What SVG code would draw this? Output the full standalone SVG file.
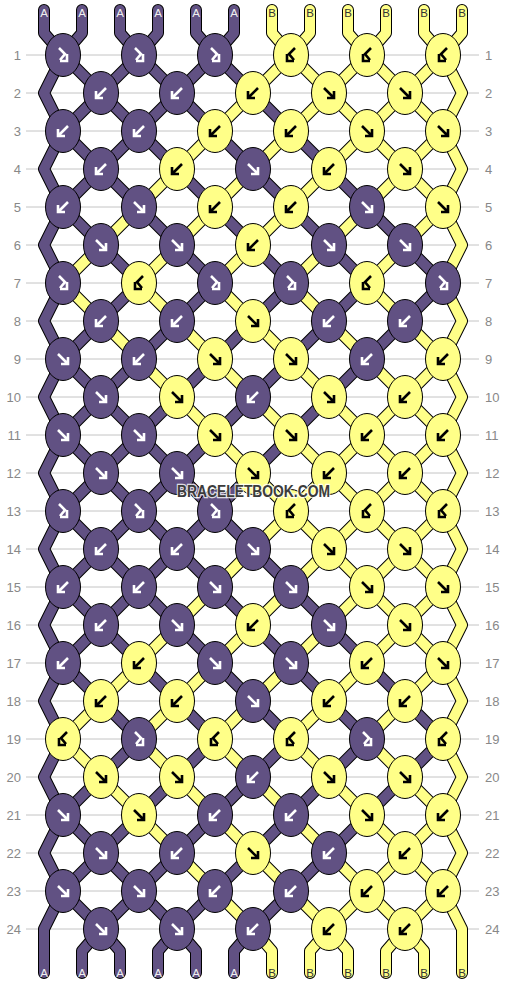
<svg xmlns="http://www.w3.org/2000/svg" xmlns:xlink="http://www.w3.org/1999/xlink" width="506" height="984" viewBox="0 0 506 984">
<style>
.grid{stroke:#c4c4c4;stroke-width:1}
.o{stroke:#000;stroke-width:12;fill:none;stroke-linejoin:round;stroke-linecap:round}
.ta{stroke:#615183;stroke-width:10;fill:none;stroke-linejoin:round;stroke-linecap:round}
.tb{stroke:#ffff88;stroke-width:10;fill:none;stroke-linejoin:round;stroke-linecap:round}
.P{fill:#615183;stroke:#000;stroke-width:1}
.Y{fill:#ffff88;stroke:#000;stroke-width:1}
.w{stroke:#fff;fill:none;stroke-width:2.6;stroke-linejoin:miter}
.k{stroke:#000;fill:none;stroke-width:2.6;stroke-linejoin:miter}
.num{font-family:"Liberation Sans",Arial,sans-serif;font-size:13px;fill:#888}
.lbl{font-family:"Liberation Sans",Arial,sans-serif;font-size:11.5px;text-anchor:middle}
.la{fill:#f0f0f0}
.lb{fill:#333}
.wm{font-family:"Liberation Sans",Arial,sans-serif;font-weight:bold;font-size:16px;fill:#3c3c3c;stroke:#fff;stroke-width:2.5;paint-order:stroke;stroke-opacity:0.8;text-anchor:middle}
</style>
<defs>
<path id="f" d="M-5,-5 L4,4 M-2,5 H5 V-2"/>
<path id="b" d="M5,-5 L-4,4 M2,5 H-5 V-2"/>
<path id="fb" d="M-4,-7 L2,-1 L-3,5 M-3,6 H4 V-1"/>
<path id="bf" d="M4,-7 L-2,-1 L3,5 M3,6 H-4 V-1"/>
<polyline id="t0" points="44,10 44,33 63,55 44,93 63,131 101,169 139,207 177,245 215,283 177,321 139,359 101,397 63,435 44,473 63,511 44,549 63,587 101,625 139,663 177,701 215,739 177,777 139,815 101,853 63,891 44,929 44,951 44,973"/>
<polyline id="t1" points="82,10 82,33 63,55 101,93 139,131 177,169 215,207 253,245 291,283 253,321 215,359 177,397 139,435 101,473 63,511 101,549 139,587 177,625 215,663 253,701 291,739 253,777 215,815 177,853 139,891 101,929 82,951 82,973"/>
<polyline id="t2" points="120,10 120,33 139,55 101,93 63,131 44,169 63,207 101,245 139,283 101,321 63,359 44,397 63,435 101,473 139,511 101,549 63,587 44,625 63,663 101,701 139,739 101,777 63,815 44,853 63,891 101,929 120,951 120,973"/>
<polyline id="t3" points="158,10 158,33 139,55 177,93 215,131 253,169 291,207 329,245 367,283 329,321 291,359 253,397 215,435 177,473 139,511 177,549 215,587 253,625 291,663 329,701 367,739 329,777 291,815 253,853 215,891 177,929 158,951 158,973"/>
<polyline id="t4" points="196,10 196,33 215,55 177,93 139,131 101,169 63,207 44,245 63,283 44,321 63,359 101,397 139,435 177,473 215,511 177,549 139,587 101,625 63,663 44,701 63,739 44,777 63,815 101,853 139,891 177,929 196,951 196,973"/>
<polyline id="t5" points="234,10 234,33 215,55 253,93 291,131 329,169 367,207 405,245 443,283 405,321 367,359 329,397 291,435 253,473 215,511 253,549 291,587 329,625 367,663 405,701 443,739 405,777 367,815 329,853 291,891 253,929 234,951 234,973"/>
<polyline id="t6" points="272,10 272,33 291,55 253,93 215,131 177,169 139,207 101,245 63,283 101,321 139,359 177,397 215,435 253,473 291,511 253,549 215,587 177,625 139,663 101,701 63,739 101,777 139,815 177,853 215,891 253,929 272,951 272,973"/>
<polyline id="t7" points="310,10 310,33 291,55 329,93 367,131 405,169 443,207 462,245 443,283 462,321 443,359 405,397 367,435 329,473 291,511 329,549 367,587 405,625 443,663 462,701 443,739 462,777 443,815 405,853 367,891 329,929 310,951 310,973"/>
<polyline id="t8" points="348,10 348,33 367,55 329,93 291,131 253,169 215,207 177,245 139,283 177,321 215,359 253,397 291,435 329,473 367,511 329,549 291,587 253,625 215,663 177,701 139,739 177,777 215,815 253,853 291,891 329,929 348,951 348,973"/>
<polyline id="t9" points="386,10 386,33 367,55 405,93 443,131 462,169 443,207 405,245 367,283 405,321 443,359 462,397 443,435 405,473 367,511 405,549 443,587 462,625 443,663 405,701 367,739 405,777 443,815 462,853 443,891 405,929 386,951 386,973"/>
<polyline id="t10" points="424,10 424,33 443,55 405,93 367,131 329,169 291,207 253,245 215,283 253,321 291,359 329,397 367,435 405,473 443,511 405,549 367,587 329,625 291,663 253,701 215,739 253,777 291,815 329,853 367,891 405,929 424,951 424,973"/>
<polyline id="t11" points="462,10 462,33 443,55 462,93 443,131 405,169 367,207 329,245 291,283 329,321 367,359 405,397 443,435 462,473 443,511 462,549 443,587 405,625 367,663 329,701 291,739 329,777 367,815 405,853 443,891 462,929 462,951 462,973"/>
</defs>
<rect width="506" height="984" fill="#fff"/>
<g id="grid" class="grid">
<line x1="26" y1="55" x2="479" y2="55"/><line x1="26" y1="93" x2="479" y2="93"/><line x1="26" y1="131" x2="479" y2="131"/><line x1="26" y1="169" x2="479" y2="169"/><line x1="26" y1="207" x2="479" y2="207"/><line x1="26" y1="245" x2="479" y2="245"/><line x1="26" y1="283" x2="479" y2="283"/><line x1="26" y1="321" x2="479" y2="321"/><line x1="26" y1="359" x2="479" y2="359"/><line x1="26" y1="397" x2="479" y2="397"/><line x1="26" y1="435" x2="479" y2="435"/><line x1="26" y1="473" x2="479" y2="473"/><line x1="26" y1="511" x2="479" y2="511"/><line x1="26" y1="549" x2="479" y2="549"/><line x1="26" y1="587" x2="479" y2="587"/><line x1="26" y1="625" x2="479" y2="625"/><line x1="26" y1="663" x2="479" y2="663"/><line x1="26" y1="701" x2="479" y2="701"/><line x1="26" y1="739" x2="479" y2="739"/><line x1="26" y1="777" x2="479" y2="777"/><line x1="26" y1="815" x2="479" y2="815"/><line x1="26" y1="853" x2="479" y2="853"/><line x1="26" y1="891" x2="479" y2="891"/><line x1="26" y1="929" x2="479" y2="929"/>
</g>
<g id="row-numbers" class="num">
<g text-anchor="end">
<text x="21" y="60">1</text><text x="21" y="98">2</text><text x="21" y="136">3</text><text x="21" y="174">4</text><text x="21" y="212">5</text><text x="21" y="250">6</text><text x="21" y="288">7</text><text x="21" y="326">8</text><text x="21" y="364">9</text><text x="21" y="402">10</text><text x="21" y="440">11</text><text x="21" y="478">12</text><text x="21" y="516">13</text><text x="21" y="554">14</text><text x="21" y="592">15</text><text x="21" y="630">16</text><text x="21" y="668">17</text><text x="21" y="706">18</text><text x="21" y="744">19</text><text x="21" y="782">20</text><text x="21" y="820">21</text><text x="21" y="858">22</text><text x="21" y="896">23</text><text x="21" y="934">24</text>
</g>
<g>
<text x="485" y="60">1</text><text x="485" y="98">2</text><text x="485" y="136">3</text><text x="485" y="174">4</text><text x="485" y="212">5</text><text x="485" y="250">6</text><text x="485" y="288">7</text><text x="485" y="326">8</text><text x="485" y="364">9</text><text x="485" y="402">10</text><text x="485" y="440">11</text><text x="485" y="478">12</text><text x="485" y="516">13</text><text x="485" y="554">14</text><text x="485" y="592">15</text><text x="485" y="630">16</text><text x="485" y="668">17</text><text x="485" y="706">18</text><text x="485" y="744">19</text><text x="485" y="782">20</text><text x="485" y="820">21</text><text x="485" y="858">22</text><text x="485" y="896">23</text><text x="485" y="934">24</text>
</g>
</g>
<g id="connectors">
<g class="o">
<use href="#t0"/><use href="#t1"/><use href="#t2"/><use href="#t3"/><use href="#t4"/><use href="#t5"/><use href="#t6"/><use href="#t7"/><use href="#t8"/><use href="#t9"/><use href="#t10"/><use href="#t11"/>
</g>
<g class="ta"><use href="#t0"/><use href="#t1"/><use href="#t2"/><use href="#t3"/><use href="#t4"/><use href="#t5"/></g>
<g class="tb"><use href="#t6"/><use href="#t7"/><use href="#t8"/><use href="#t9"/><use href="#t10"/><use href="#t11"/></g>
</g>
<g id="string-labels" class="lbl">
<text class="la" x="44" y="17">A</text><text class="la" x="82" y="17">A</text><text class="la" x="120" y="17">A</text><text class="la" x="158" y="17">A</text><text class="la" x="196" y="17">A</text><text class="la" x="234" y="17">A</text>
<text class="lb" x="272" y="17">B</text><text class="lb" x="310" y="17">B</text><text class="lb" x="348" y="17">B</text><text class="lb" x="386" y="17">B</text><text class="lb" x="424" y="17">B</text><text class="lb" x="462" y="17">B</text>
<text class="la" x="44" y="977">A</text><text class="la" x="82" y="977">A</text><text class="la" x="120" y="977">A</text><text class="la" x="158" y="977">A</text><text class="la" x="196" y="977">A</text><text class="la" x="234" y="977">A</text>
<text class="lb" x="272" y="977">B</text><text class="lb" x="310" y="977">B</text><text class="lb" x="348" y="977">B</text><text class="lb" x="386" y="977">B</text><text class="lb" x="424" y="977">B</text><text class="lb" x="462" y="977">B</text>
</g>
<g id="knots">
<g id="k1-1" transform="translate(63 55)"><ellipse class="P" rx="17.5" ry="21.5"/><use href="#fb" class="w"/></g>
<g id="k1-2" transform="translate(139 55)"><ellipse class="P" rx="17.5" ry="21.5"/><use href="#fb" class="w"/></g>
<g id="k1-3" transform="translate(215 55)"><ellipse class="P" rx="17.5" ry="21.5"/><use href="#fb" class="w"/></g>
<g id="k1-4" transform="translate(291 55)"><ellipse class="Y" rx="17.5" ry="21.5"/><use href="#bf" class="k"/></g>
<g id="k1-5" transform="translate(367 55)"><ellipse class="Y" rx="17.5" ry="21.5"/><use href="#bf" class="k"/></g>
<g id="k1-6" transform="translate(443 55)"><ellipse class="Y" rx="17.5" ry="21.5"/><use href="#bf" class="k"/></g>
<g id="k2-1" transform="translate(101 93)"><ellipse class="P" rx="17.5" ry="21.5"/><use href="#b" class="w"/></g>
<g id="k2-2" transform="translate(177 93)"><ellipse class="P" rx="17.5" ry="21.5"/><use href="#b" class="w"/></g>
<g id="k2-3" transform="translate(253 93)"><ellipse class="Y" rx="17.5" ry="21.5"/><use href="#b" class="k"/></g>
<g id="k2-4" transform="translate(329 93)"><ellipse class="Y" rx="17.5" ry="21.5"/><use href="#f" class="k"/></g>
<g id="k2-5" transform="translate(405 93)"><ellipse class="Y" rx="17.5" ry="21.5"/><use href="#f" class="k"/></g>
<g id="k3-1" transform="translate(63 131)"><ellipse class="P" rx="17.5" ry="21.5"/><use href="#b" class="w"/></g>
<g id="k3-2" transform="translate(139 131)"><ellipse class="P" rx="17.5" ry="21.5"/><use href="#b" class="w"/></g>
<g id="k3-3" transform="translate(215 131)"><ellipse class="Y" rx="17.5" ry="21.5"/><use href="#b" class="k"/></g>
<g id="k3-4" transform="translate(291 131)"><ellipse class="Y" rx="17.5" ry="21.5"/><use href="#b" class="k"/></g>
<g id="k3-5" transform="translate(367 131)"><ellipse class="Y" rx="17.5" ry="21.5"/><use href="#f" class="k"/></g>
<g id="k3-6" transform="translate(443 131)"><ellipse class="Y" rx="17.5" ry="21.5"/><use href="#f" class="k"/></g>
<g id="k4-1" transform="translate(101 169)"><ellipse class="P" rx="17.5" ry="21.5"/><use href="#b" class="w"/></g>
<g id="k4-2" transform="translate(177 169)"><ellipse class="Y" rx="17.5" ry="21.5"/><use href="#b" class="k"/></g>
<g id="k4-3" transform="translate(253 169)"><ellipse class="P" rx="17.5" ry="21.5"/><use href="#f" class="w"/></g>
<g id="k4-4" transform="translate(329 169)"><ellipse class="Y" rx="17.5" ry="21.5"/><use href="#b" class="k"/></g>
<g id="k4-5" transform="translate(405 169)"><ellipse class="Y" rx="17.5" ry="21.5"/><use href="#f" class="k"/></g>
<g id="k5-1" transform="translate(63 207)"><ellipse class="P" rx="17.5" ry="21.5"/><use href="#b" class="w"/></g>
<g id="k5-2" transform="translate(139 207)"><ellipse class="P" rx="17.5" ry="21.5"/><use href="#f" class="w"/></g>
<g id="k5-3" transform="translate(215 207)"><ellipse class="Y" rx="17.5" ry="21.5"/><use href="#b" class="k"/></g>
<g id="k5-4" transform="translate(291 207)"><ellipse class="Y" rx="17.5" ry="21.5"/><use href="#b" class="k"/></g>
<g id="k5-5" transform="translate(367 207)"><ellipse class="P" rx="17.5" ry="21.5"/><use href="#f" class="w"/></g>
<g id="k5-6" transform="translate(443 207)"><ellipse class="Y" rx="17.5" ry="21.5"/><use href="#f" class="k"/></g>
<g id="k6-1" transform="translate(101 245)"><ellipse class="P" rx="17.5" ry="21.5"/><use href="#f" class="w"/></g>
<g id="k6-2" transform="translate(177 245)"><ellipse class="P" rx="17.5" ry="21.5"/><use href="#f" class="w"/></g>
<g id="k6-3" transform="translate(253 245)"><ellipse class="Y" rx="17.5" ry="21.5"/><use href="#b" class="k"/></g>
<g id="k6-4" transform="translate(329 245)"><ellipse class="P" rx="17.5" ry="21.5"/><use href="#f" class="w"/></g>
<g id="k6-5" transform="translate(405 245)"><ellipse class="P" rx="17.5" ry="21.5"/><use href="#f" class="w"/></g>
<g id="k7-1" transform="translate(63 283)"><ellipse class="P" rx="17.5" ry="21.5"/><use href="#fb" class="w"/></g>
<g id="k7-2" transform="translate(139 283)"><ellipse class="Y" rx="17.5" ry="21.5"/><use href="#bf" class="k"/></g>
<g id="k7-3" transform="translate(215 283)"><ellipse class="P" rx="17.5" ry="21.5"/><use href="#fb" class="w"/></g>
<g id="k7-4" transform="translate(291 283)"><ellipse class="P" rx="17.5" ry="21.5"/><use href="#fb" class="w"/></g>
<g id="k7-5" transform="translate(367 283)"><ellipse class="Y" rx="17.5" ry="21.5"/><use href="#bf" class="k"/></g>
<g id="k7-6" transform="translate(443 283)"><ellipse class="P" rx="17.5" ry="21.5"/><use href="#fb" class="w"/></g>
<g id="k8-1" transform="translate(101 321)"><ellipse class="P" rx="17.5" ry="21.5"/><use href="#b" class="w"/></g>
<g id="k8-2" transform="translate(177 321)"><ellipse class="P" rx="17.5" ry="21.5"/><use href="#b" class="w"/></g>
<g id="k8-3" transform="translate(253 321)"><ellipse class="Y" rx="17.5" ry="21.5"/><use href="#f" class="k"/></g>
<g id="k8-4" transform="translate(329 321)"><ellipse class="P" rx="17.5" ry="21.5"/><use href="#b" class="w"/></g>
<g id="k8-5" transform="translate(405 321)"><ellipse class="P" rx="17.5" ry="21.5"/><use href="#b" class="w"/></g>
<g id="k9-1" transform="translate(63 359)"><ellipse class="P" rx="17.5" ry="21.5"/><use href="#f" class="w"/></g>
<g id="k9-2" transform="translate(139 359)"><ellipse class="P" rx="17.5" ry="21.5"/><use href="#b" class="w"/></g>
<g id="k9-3" transform="translate(215 359)"><ellipse class="Y" rx="17.5" ry="21.5"/><use href="#f" class="k"/></g>
<g id="k9-4" transform="translate(291 359)"><ellipse class="Y" rx="17.5" ry="21.5"/><use href="#f" class="k"/></g>
<g id="k9-5" transform="translate(367 359)"><ellipse class="P" rx="17.5" ry="21.5"/><use href="#b" class="w"/></g>
<g id="k9-6" transform="translate(443 359)"><ellipse class="Y" rx="17.5" ry="21.5"/><use href="#b" class="k"/></g>
<g id="k10-1" transform="translate(101 397)"><ellipse class="P" rx="17.5" ry="21.5"/><use href="#f" class="w"/></g>
<g id="k10-2" transform="translate(177 397)"><ellipse class="Y" rx="17.5" ry="21.5"/><use href="#f" class="k"/></g>
<g id="k10-3" transform="translate(253 397)"><ellipse class="P" rx="17.5" ry="21.5"/><use href="#b" class="w"/></g>
<g id="k10-4" transform="translate(329 397)"><ellipse class="Y" rx="17.5" ry="21.5"/><use href="#f" class="k"/></g>
<g id="k10-5" transform="translate(405 397)"><ellipse class="Y" rx="17.5" ry="21.5"/><use href="#b" class="k"/></g>
<g id="k11-1" transform="translate(63 435)"><ellipse class="P" rx="17.5" ry="21.5"/><use href="#f" class="w"/></g>
<g id="k11-2" transform="translate(139 435)"><ellipse class="P" rx="17.5" ry="21.5"/><use href="#f" class="w"/></g>
<g id="k11-3" transform="translate(215 435)"><ellipse class="Y" rx="17.5" ry="21.5"/><use href="#f" class="k"/></g>
<g id="k11-4" transform="translate(291 435)"><ellipse class="Y" rx="17.5" ry="21.5"/><use href="#f" class="k"/></g>
<g id="k11-5" transform="translate(367 435)"><ellipse class="Y" rx="17.5" ry="21.5"/><use href="#b" class="k"/></g>
<g id="k11-6" transform="translate(443 435)"><ellipse class="Y" rx="17.5" ry="21.5"/><use href="#b" class="k"/></g>
<g id="k12-1" transform="translate(101 473)"><ellipse class="P" rx="17.5" ry="21.5"/><use href="#f" class="w"/></g>
<g id="k12-2" transform="translate(177 473)"><ellipse class="P" rx="17.5" ry="21.5"/><use href="#f" class="w"/></g>
<g id="k12-3" transform="translate(253 473)"><ellipse class="Y" rx="17.5" ry="21.5"/><use href="#f" class="k"/></g>
<g id="k12-4" transform="translate(329 473)"><ellipse class="Y" rx="17.5" ry="21.5"/><use href="#b" class="k"/></g>
<g id="k12-5" transform="translate(405 473)"><ellipse class="Y" rx="17.5" ry="21.5"/><use href="#b" class="k"/></g>
<g id="k13-1" transform="translate(63 511)"><ellipse class="P" rx="17.5" ry="21.5"/><use href="#fb" class="w"/></g>
<g id="k13-2" transform="translate(139 511)"><ellipse class="P" rx="17.5" ry="21.5"/><use href="#fb" class="w"/></g>
<g id="k13-3" transform="translate(215 511)"><ellipse class="P" rx="17.5" ry="21.5"/><use href="#fb" class="w"/></g>
<g id="k13-4" transform="translate(291 511)"><ellipse class="Y" rx="17.5" ry="21.5"/><use href="#bf" class="k"/></g>
<g id="k13-5" transform="translate(367 511)"><ellipse class="Y" rx="17.5" ry="21.5"/><use href="#bf" class="k"/></g>
<g id="k13-6" transform="translate(443 511)"><ellipse class="Y" rx="17.5" ry="21.5"/><use href="#bf" class="k"/></g>
<g id="k14-1" transform="translate(101 549)"><ellipse class="P" rx="17.5" ry="21.5"/><use href="#b" class="w"/></g>
<g id="k14-2" transform="translate(177 549)"><ellipse class="P" rx="17.5" ry="21.5"/><use href="#b" class="w"/></g>
<g id="k14-3" transform="translate(253 549)"><ellipse class="P" rx="17.5" ry="21.5"/><use href="#f" class="w"/></g>
<g id="k14-4" transform="translate(329 549)"><ellipse class="Y" rx="17.5" ry="21.5"/><use href="#f" class="k"/></g>
<g id="k14-5" transform="translate(405 549)"><ellipse class="Y" rx="17.5" ry="21.5"/><use href="#f" class="k"/></g>
<g id="k15-1" transform="translate(63 587)"><ellipse class="P" rx="17.5" ry="21.5"/><use href="#b" class="w"/></g>
<g id="k15-2" transform="translate(139 587)"><ellipse class="P" rx="17.5" ry="21.5"/><use href="#b" class="w"/></g>
<g id="k15-3" transform="translate(215 587)"><ellipse class="P" rx="17.5" ry="21.5"/><use href="#f" class="w"/></g>
<g id="k15-4" transform="translate(291 587)"><ellipse class="P" rx="17.5" ry="21.5"/><use href="#f" class="w"/></g>
<g id="k15-5" transform="translate(367 587)"><ellipse class="Y" rx="17.5" ry="21.5"/><use href="#f" class="k"/></g>
<g id="k15-6" transform="translate(443 587)"><ellipse class="Y" rx="17.5" ry="21.5"/><use href="#f" class="k"/></g>
<g id="k16-1" transform="translate(101 625)"><ellipse class="P" rx="17.5" ry="21.5"/><use href="#b" class="w"/></g>
<g id="k16-2" transform="translate(177 625)"><ellipse class="P" rx="17.5" ry="21.5"/><use href="#f" class="w"/></g>
<g id="k16-3" transform="translate(253 625)"><ellipse class="Y" rx="17.5" ry="21.5"/><use href="#b" class="k"/></g>
<g id="k16-4" transform="translate(329 625)"><ellipse class="P" rx="17.5" ry="21.5"/><use href="#f" class="w"/></g>
<g id="k16-5" transform="translate(405 625)"><ellipse class="Y" rx="17.5" ry="21.5"/><use href="#f" class="k"/></g>
<g id="k17-1" transform="translate(63 663)"><ellipse class="P" rx="17.5" ry="21.5"/><use href="#b" class="w"/></g>
<g id="k17-2" transform="translate(139 663)"><ellipse class="Y" rx="17.5" ry="21.5"/><use href="#b" class="k"/></g>
<g id="k17-3" transform="translate(215 663)"><ellipse class="P" rx="17.5" ry="21.5"/><use href="#f" class="w"/></g>
<g id="k17-4" transform="translate(291 663)"><ellipse class="P" rx="17.5" ry="21.5"/><use href="#f" class="w"/></g>
<g id="k17-5" transform="translate(367 663)"><ellipse class="Y" rx="17.5" ry="21.5"/><use href="#b" class="k"/></g>
<g id="k17-6" transform="translate(443 663)"><ellipse class="Y" rx="17.5" ry="21.5"/><use href="#f" class="k"/></g>
<g id="k18-1" transform="translate(101 701)"><ellipse class="Y" rx="17.5" ry="21.5"/><use href="#b" class="k"/></g>
<g id="k18-2" transform="translate(177 701)"><ellipse class="Y" rx="17.5" ry="21.5"/><use href="#b" class="k"/></g>
<g id="k18-3" transform="translate(253 701)"><ellipse class="P" rx="17.5" ry="21.5"/><use href="#f" class="w"/></g>
<g id="k18-4" transform="translate(329 701)"><ellipse class="Y" rx="17.5" ry="21.5"/><use href="#b" class="k"/></g>
<g id="k18-5" transform="translate(405 701)"><ellipse class="Y" rx="17.5" ry="21.5"/><use href="#b" class="k"/></g>
<g id="k19-1" transform="translate(63 739)"><ellipse class="Y" rx="17.5" ry="21.5"/><use href="#bf" class="k"/></g>
<g id="k19-2" transform="translate(139 739)"><ellipse class="P" rx="17.5" ry="21.5"/><use href="#fb" class="w"/></g>
<g id="k19-3" transform="translate(215 739)"><ellipse class="Y" rx="17.5" ry="21.5"/><use href="#bf" class="k"/></g>
<g id="k19-4" transform="translate(291 739)"><ellipse class="Y" rx="17.5" ry="21.5"/><use href="#bf" class="k"/></g>
<g id="k19-5" transform="translate(367 739)"><ellipse class="P" rx="17.5" ry="21.5"/><use href="#fb" class="w"/></g>
<g id="k19-6" transform="translate(443 739)"><ellipse class="Y" rx="17.5" ry="21.5"/><use href="#bf" class="k"/></g>
<g id="k20-1" transform="translate(101 777)"><ellipse class="Y" rx="17.5" ry="21.5"/><use href="#f" class="k"/></g>
<g id="k20-2" transform="translate(177 777)"><ellipse class="Y" rx="17.5" ry="21.5"/><use href="#f" class="k"/></g>
<g id="k20-3" transform="translate(253 777)"><ellipse class="P" rx="17.5" ry="21.5"/><use href="#b" class="w"/></g>
<g id="k20-4" transform="translate(329 777)"><ellipse class="Y" rx="17.5" ry="21.5"/><use href="#f" class="k"/></g>
<g id="k20-5" transform="translate(405 777)"><ellipse class="Y" rx="17.5" ry="21.5"/><use href="#f" class="k"/></g>
<g id="k21-1" transform="translate(63 815)"><ellipse class="P" rx="17.5" ry="21.5"/><use href="#f" class="w"/></g>
<g id="k21-2" transform="translate(139 815)"><ellipse class="Y" rx="17.5" ry="21.5"/><use href="#f" class="k"/></g>
<g id="k21-3" transform="translate(215 815)"><ellipse class="P" rx="17.5" ry="21.5"/><use href="#b" class="w"/></g>
<g id="k21-4" transform="translate(291 815)"><ellipse class="P" rx="17.5" ry="21.5"/><use href="#b" class="w"/></g>
<g id="k21-5" transform="translate(367 815)"><ellipse class="Y" rx="17.5" ry="21.5"/><use href="#f" class="k"/></g>
<g id="k21-6" transform="translate(443 815)"><ellipse class="Y" rx="17.5" ry="21.5"/><use href="#b" class="k"/></g>
<g id="k22-1" transform="translate(101 853)"><ellipse class="P" rx="17.5" ry="21.5"/><use href="#f" class="w"/></g>
<g id="k22-2" transform="translate(177 853)"><ellipse class="P" rx="17.5" ry="21.5"/><use href="#b" class="w"/></g>
<g id="k22-3" transform="translate(253 853)"><ellipse class="Y" rx="17.5" ry="21.5"/><use href="#f" class="k"/></g>
<g id="k22-4" transform="translate(329 853)"><ellipse class="P" rx="17.5" ry="21.5"/><use href="#b" class="w"/></g>
<g id="k22-5" transform="translate(405 853)"><ellipse class="Y" rx="17.5" ry="21.5"/><use href="#b" class="k"/></g>
<g id="k23-1" transform="translate(63 891)"><ellipse class="P" rx="17.5" ry="21.5"/><use href="#f" class="w"/></g>
<g id="k23-2" transform="translate(139 891)"><ellipse class="P" rx="17.5" ry="21.5"/><use href="#f" class="w"/></g>
<g id="k23-3" transform="translate(215 891)"><ellipse class="P" rx="17.5" ry="21.5"/><use href="#b" class="w"/></g>
<g id="k23-4" transform="translate(291 891)"><ellipse class="P" rx="17.5" ry="21.5"/><use href="#b" class="w"/></g>
<g id="k23-5" transform="translate(367 891)"><ellipse class="Y" rx="17.5" ry="21.5"/><use href="#b" class="k"/></g>
<g id="k23-6" transform="translate(443 891)"><ellipse class="Y" rx="17.5" ry="21.5"/><use href="#b" class="k"/></g>
<g id="k24-1" transform="translate(101 929)"><ellipse class="P" rx="17.5" ry="21.5"/><use href="#f" class="w"/></g>
<g id="k24-2" transform="translate(177 929)"><ellipse class="P" rx="17.5" ry="21.5"/><use href="#f" class="w"/></g>
<g id="k24-3" transform="translate(253 929)"><ellipse class="P" rx="17.5" ry="21.5"/><use href="#b" class="w"/></g>
<g id="k24-4" transform="translate(329 929)"><ellipse class="Y" rx="17.5" ry="21.5"/><use href="#b" class="k"/></g>
<g id="k24-5" transform="translate(405 929)"><ellipse class="Y" rx="17.5" ry="21.5"/><use href="#b" class="k"/></g>
</g>
<text id="watermark" class="wm" x="253.5" y="497" textLength="153" lengthAdjust="spacingAndGlyphs">BRACELETBOOK.COM</text>
</svg>
